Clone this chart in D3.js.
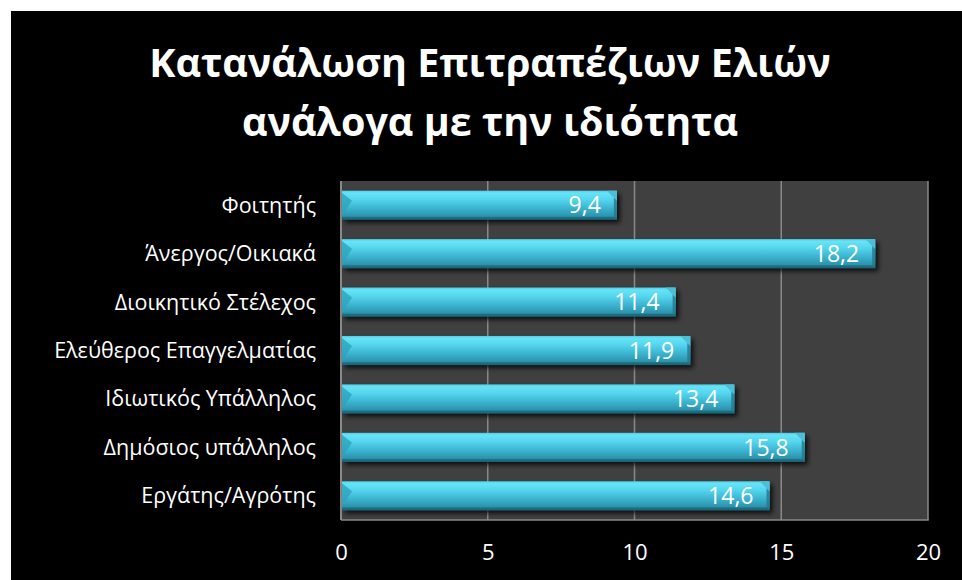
<!DOCTYPE html>
<html>
<head>
<meta charset="utf-8">
<script src="https://cdn.jsdelivr.net/npm/d3@7"></script>
<style>
  html, body { margin: 0; padding: 0; background: #ffffff; }
  svg { display: block; }
  text { font-family: "Open Sans", "Noto Sans", sans-serif; }
</style>
</head>
<body>
<svg id="chart" width="962" height="580"></svg>
<script>
// Chart data
const titleLines = ["Κατανάλωση Επιτραπέζιων Ελιών", "ανάλογα με την ιδιότητα"];
const categories = [
  "Φοιτητής",
  "Άνεργος/Οικιακά",
  "Διοικητικό Στέλεχος",
  "Ελεύθερος Επαγγελματίας",
  "Ιδιωτικός Υπάλληλος",
  "Δημόσιος υπάλληλος",
  "Εργάτης/Αγρότης"
];
const values = [9.4, 18.2, 11.4, 11.9, 13.4, 15.8, 14.6];
const tickValues = [0, 5, 10, 15, 20];

const svg = d3.select("#chart");
const W = 962, H = 580;

// black chart area (white margin on top/left)
svg.append("rect").attr("x", 11).attr("y", 11).attr("width", W - 11).attr("height", H - 11).attr("fill", "#000");

// plot area
const plot = { left: 341, right: 928, top: 181, bottom: 520 };

const x = d3.scaleLinear().domain([0, 20]).range([plot.left, plot.right]);
const y = d3.scaleBand().domain(categories).range([plot.top, plot.bottom]).paddingInner(0.4).paddingOuter(0.2);

const defs = svg.append("defs");

const grad = defs.append("linearGradient").attr("id", "barGrad").attr("x1", 0).attr("y1", 0).attr("x2", 0).attr("y2", 1);
[
  [0, "#4fcde4"], [0.08, "#66e4f8"], [0.3, "#55d6ee"], [0.6, "#3cb4d0"],
  [0.88, "#2b93ad"], [0.92, "#1f6f84"], [1, "#1c6476"]
].forEach(([o, c]) => grad.append("stop").attr("offset", o).attr("stop-color", c));

const shadow = defs.append("filter").attr("id", "barShadow").attr("x", "-5%").attr("y", "-30%").attr("width", "115%").attr("height", "180%");
shadow.append("feGaussianBlur").attr("in", "SourceAlpha").attr("stdDeviation", 2.5).attr("result", "b");
shadow.append("feOffset").attr("in", "b").attr("dx", 3).attr("dy", 3).attr("result", "o");
shadow.append("feComponentTransfer").attr("in", "o").attr("result", "s")
  .append("feFuncA").attr("type", "linear").attr("slope", 0.8);
const merge = shadow.append("feMerge");
merge.append("feMergeNode").attr("in", "s");
merge.append("feMergeNode").attr("in", "SourceGraphic");

// plot background
svg.append("rect")
  .attr("x", plot.left).attr("y", plot.top)
  .attr("width", plot.right - plot.left).attr("height", plot.bottom - plot.top)
  .attr("fill", "#404040");

// vertical gridlines
svg.append("g").selectAll("line").data(tickValues.slice(1)).join("line")
  .attr("x1", d => x(d)).attr("x2", d => x(d))
  .attr("y1", plot.top).attr("y2", plot.bottom)
  .attr("stroke", "#8a8a8a").attr("stroke-width", 1.5);

// left axis line and bottom border
svg.append("line").attr("x1", plot.left).attr("x2", plot.left).attr("y1", plot.top).attr("y2", plot.bottom)
  .attr("stroke", "#8a8a8a").attr("stroke-width", 2);
svg.append("line").attr("x1", plot.left).attr("x2", plot.right + 0.75).attr("y1", plot.bottom).attr("y2", plot.bottom)
  .attr("stroke", "#8a8a8a").attr("stroke-width", 1.5);

// bars with bevelled ends
const bars = svg.append("g").selectAll("g.bar").data(values).join("g").attr("class", "bar");
const bw = y.bandwidth();
bars.each(function (v, i) {
  const g = d3.select(this);
  const x0 = x(0) + 1, x1 = x(v), y0 = y(categories[i]), h = bw;
  const b = Math.min(10, h * 0.35);
  g.append("rect").attr("x", x0).attr("y", y0).attr("width", x1 - x0).attr("height", h)
    .attr("fill", "url(#barGrad)").attr("filter", "url(#barShadow)");
  // left bevel facet
  g.append("path")
    .attr("d", `M${x0},${y0 + 2}L${x0 + b},${y0 + b}L${x0},${y0 + h - 4}Z`)
    .attr("fill", "#2ea2bc").attr("opacity", 0.8);
  // right bevel facet
  g.append("path")
    .attr("d", `M${x1 - b},${y0}L${x1},${y0}L${x1},${y0 + b}Z`)
    .attr("fill", "#4bbfd6");
  g.append("path")
    .attr("d", `M${x1 - 3},${y0 + b - 3}L${x1},${y0 + b}L${x1},${y0 + h}L${x1 - 3},${y0 + h - 3}Z`)
    .attr("fill", "#23788d").attr("opacity", 0.8);
});

// value labels, inside end
svg.append("g").selectAll("text").data(values).join("text")
  .attr("x", d => x(d) - 16)
  .attr("y", (d, i) => y(categories[i]) + bw / 2)
  .attr("dy", "0.36em")
  .attr("text-anchor", "end")
  .attr("fill", "#ffffff")
  .attr("font-size", 23)
  .text(d => d.toFixed(1).replace(".", ","));

// category axis
const yAxis = d3.axisLeft(y).tickSize(0).tickPadding(25);
const gy = svg.append("g").attr("transform", `translate(${plot.left},0)`).call(yAxis);
gy.select(".domain").remove();
gy.selectAll("text").attr("fill", "#ffffff").attr("font-size", 21.5)
  .attr("font-family", "'Open Sans', 'Noto Sans', sans-serif").attr("dy", "0.35em");

// value axis
const xAxis = d3.axisBottom(x).tickValues(tickValues).tickSize(0).tickPadding(24).tickFormat(d3.format("d"));
const gx = svg.append("g").attr("transform", `translate(0,${plot.bottom})`).call(xAxis);
gx.select(".domain").remove();
gx.selectAll("text").attr("fill", "#ffffff").attr("font-size", 22)
  .attr("font-family", "'Open Sans', 'Noto Sans', sans-serif");

// title
svg.append("g").selectAll("text").data(titleLines).join("text")
  .attr("x", 490)
  .attr("y", (d, i) => 77 + i * 59)
  .attr("text-anchor", "middle")
  .attr("fill", "#ffffff")
  .attr("font-weight", "bold")
  .attr("font-size", 39.5)
  .text(d => d);
</script>
</body>
</html>
